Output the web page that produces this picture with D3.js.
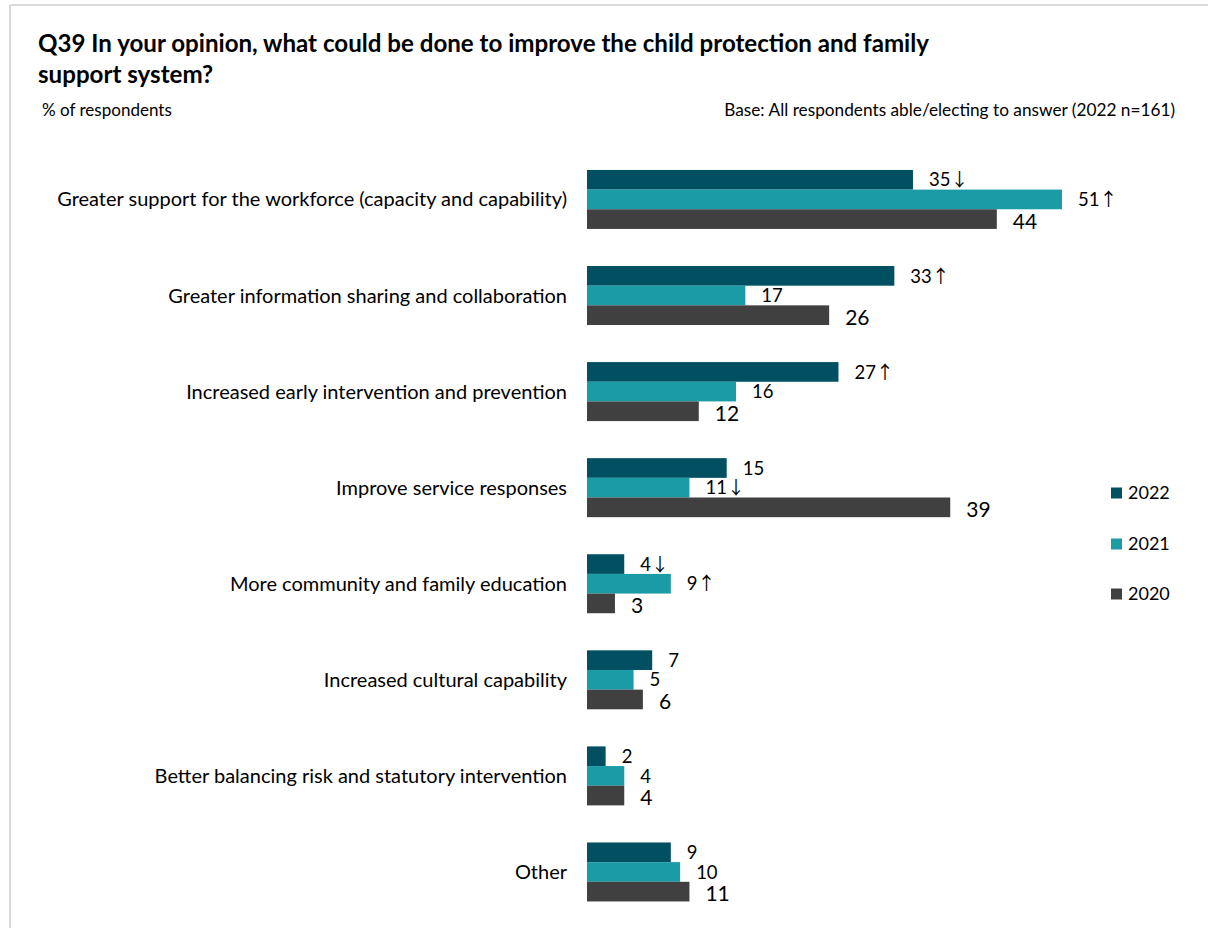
<!DOCTYPE html>
<html>
<head>
<meta charset="utf-8">
<script src="https://cdn.jsdelivr.net/npm/d3@7"></script>
<style>
  html, body { margin: 0; padding: 0; background: #fff; }
  svg { display: block; }
  text { font-family: Lato, "Noto Sans", sans-serif; fill: #000; }
</style>
</head>
<body>
<svg id="chart" width="1208" height="928"></svg>
<script>
const categories = [
  "Greater support for the workforce (capacity and capability)",
  "Greater information sharing and collaboration",
  "Increased early intervention and prevention",
  "Improve service responses",
  "More community and family education",
  "Increased cultural capability",
  "Better balancing risk and statutory intervention",
  "Other"
];
const seriesNames = ["2022", "2021", "2020"];
const values2022 = [35, 33, 27, 15, 4, 7, 2, 9];
const values2021 = [51, 17, 16, 11, 9, 5, 4, 10];
const values2020 = [44, 26, 12, 39, 3, 6, 4, 11];
const arrows2022 = ["↓", "↑", "↑", "", "↓", "", "", ""];
const arrows2021 = ["↑", "", "", "↓", "↑", "", "", ""];
const arrows2020 = ["", "", "", "", "", "", "", ""];
const colors = ["#005062", "#1a9ba6", "#404040"];
const titleLines = [
  "Q39 In your opinion, what could be done to improve the child protection and family",
  "support system?"
];
const subtitleLeft = "% of respondents";
const subtitleRight = "Base: All respondents able/electing to answer (2022 n=161)";

const seriesValues = [values2022, values2021, values2020];
const seriesArrows = [arrows2022, arrows2021, arrows2020];

const svg = d3.select("#chart");

// frame
svg.append("line").attr("x1", 10).attr("x2", 1208).attr("y1", 5).attr("y2", 5)
  .attr("stroke", "#d9d9d9").attr("stroke-width", 2);
svg.append("line").attr("x1", 10).attr("x2", 10).attr("y1", 5).attr("y2", 928)
  .attr("stroke", "#d9d9d9").attr("stroke-width", 2);

function fitWidth(sel, target) {
  const node = sel.node();
  const fs = parseFloat(sel.attr("font-size"));
  const w = node.getComputedTextLength();
  if (w > 0) sel.attr("font-size", (fs * target / w).toFixed(2));
  return sel;
}

// title
const t1 = svg.append("text").attr("x", 38).attr("y", 52).attr("font-size", 21)
  .attr("font-weight", "bold").text(titleLines[0]);
fitWidth(t1, 891);
svg.append("text").attr("x", 38).attr("y", 83).attr("font-size", t1.attr("font-size"))
  .attr("font-weight", "bold").text(titleLines[1]);

const s1 = svg.append("text").attr("x", 42).attr("y", 116).attr("font-size", 14)
  .text(subtitleLeft);
fitWidth(s1, 130);
const s2 = svg.append("text").attr("x", 1175).attr("y", 116).attr("font-size", 14)
  .attr("text-anchor", "end").text(subtitleRight);
fitWidth(s2, 451);

// scales
const x = d3.scaleLinear().domain([0, 51]).range([587, 1062]);
const y = d3.scaleBand().domain(categories).range([151.4, 920]).paddingInner(0.386).paddingOuter(0.193);
const ySub = d3.scaleBand().domain(seriesNames).range([0, y.bandwidth()]);

// category labels
const catG = svg.append("g");
const catLabels = catG.selectAll("text").data(categories).join("text")
  .attr("x", 567)
  .attr("y", d => y(d) + y.bandwidth() / 2)
  .attr("dy", "0.35em")
  .attr("text-anchor", "end")
  .attr("font-size", 17)
  .text(d => d);
const longest = catLabels.filter((d, i) => i === 0);
fitWidth(longest, 510);
catLabels.attr("font-size", longest.attr("font-size"));

// bars
const rows = [];
categories.forEach((c, i) => {
  seriesNames.forEach((s, j) => {
    rows.push({ cat: c, series: s, j, value: seriesValues[j][i], arrow: seriesArrows[j][i] });
  });
});

const barG = svg.append("g");
barG.selectAll("rect").data(rows).join("rect")
  .attr("x", x(0))
  .attr("y", d => y(d.cat) + ySub(d.series))
  .attr("width", d => x(d.value) - x(0))
  .attr("height", ySub.bandwidth())
  .attr("fill", d => colors[d.j]);

const vl = barG.selectAll("text").data(rows).join("text")
  .attr("x", d => x(d.value) + 16)
  .attr("y", d => y(d.cat) + ySub(d.series) + ySub.bandwidth() / 2 + (d.j === 2 ? 2 : 0))
  .attr("dy", "0.36em")
  .attr("font-size", d => d.j === 2 ? 21 : 18.5);
vl.append("tspan").text(d => d.value);
vl.filter(d => d.arrow).append("tspan")
  .attr("font-family", "'Noto Sans CJK SC', 'DejaVu Sans', sans-serif")
  .attr("font-weight", 400)
  .attr("font-size", 18)
  .text(d => d.arrow);

// legend
const legend = svg.append("g");
const legendY = [493, 544, 594];
seriesNames.forEach((s, j) => {
  legend.append("rect").attr("x", 1111).attr("y", legendY[j] - 5.5)
    .attr("width", 11).attr("height", 11).attr("fill", colors[j]);
  legend.append("text").attr("x", 1128).attr("y", legendY[j]).attr("dy", "0.36em")
    .attr("font-size", 18).text(s);
});
</script>
</body>
</html>
